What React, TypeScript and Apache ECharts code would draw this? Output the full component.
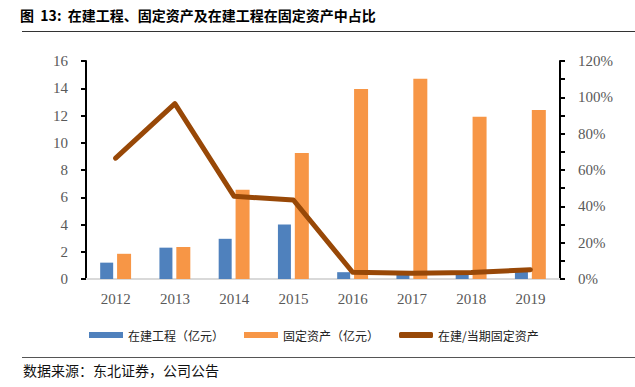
import React, { useEffect, useRef } from "react";
import * as echarts from "echarts";

const years = ["2012", "2013", "2014", "2015", "2016", "2017", "2018", "2019"];
const cip = [1.2, 2.3, 2.95, 4.0, 0.5, 0.45, 0.45, 0.65];
const fixedAssets = [1.85, 2.35, 6.55, 9.25, 13.95, 14.7, 11.9, 12.4];
const ratio = [66.5, 96.5, 45.5, 43.5, 3.7, 3.1, 3.6, 5.1];

const titleText = "图  13:  在建工程、固定资产及在建工程在固定资产中占比";
const sourceText = "数据来源：东北证券，公司公告";
const seriesNames = ["在建工程（亿元）", "固定资产（亿元）", "在建/当期固定资产"];

const serif = "'Liberation Serif', 'DejaVu Serif', serif";
const cjk = "'Noto Sans CJK SC', sans-serif";

export default function App() {
  const ref = useRef<HTMLDivElement>(null);
  useEffect(() => {
    if (!ref.current) return;
    const chart = echarts.init(ref.current, null, { renderer: "svg" });
    chart.setOption({
      animation: false,
      backgroundColor: "#ffffff",
      grid: { left: 86, right: 75, top: 61, bottom: 108 },
      graphic: [
        {
          type: "text",
          left: 20,
          top: 8,
          style: { text: titleText, font: `bold 14px ${cjk}`, fill: "#000" },
        },
        {
          type: "line",
          shape: { x1: 22, y1: 31.5, x2: 635, y2: 31.5 },
          style: { stroke: "#333", lineWidth: 1 },
        },
        {
          type: "line",
          shape: { x1: 22, y1: 357.5, x2: 635, y2: 357.5 },
          style: { stroke: "#555", lineWidth: 1 },
        },
        {
          type: "text",
          left: 23,
          top: 363,
          style: { text: sourceText, font: `14px ${cjk}`, fill: "#111" },
        },
      ],
      legend: {
        left: 84,
        top: 324,
        itemWidth: 34,
        itemHeight: 6,
        itemGap: 20,
        textStyle: { fontFamily: cjk, fontSize: 12, color: "#222" },
        data: [
          { name: seriesNames[0], icon: "rect" },
          { name: seriesNames[1], icon: "rect" },
          { name: seriesNames[2], icon: "roundRect" },
        ],
      },
      xAxis: {
        type: "category",
        data: years,
        axisLine: { lineStyle: { color: "#d9d9d9", width: 2 } },
        axisTick: { show: false },
        axisLabel: { fontFamily: serif, fontSize: 15, color: "#595959", margin: 12 },
      },
      yAxis: [
        {
          type: "value",
          min: 0,
          max: 16,
          interval: 2,
          axisLine: { show: true, lineStyle: { color: "#000", width: 2 } },
          axisTick: { show: true, length: 5, lineStyle: { color: "#000", width: 2 } },
          splitLine: { show: false },
          axisLabel: { fontFamily: serif, fontSize: 15, color: "#595959", margin: 18 },
        },
        {
          type: "value",
          min: 0,
          max: 120,
          interval: 20,
          position: "right",
          axisLine: { show: true, lineStyle: { color: "#000", width: 2 } },
          axisTick: { show: true, length: 5, lineStyle: { color: "#000", width: 2 } },
          minorTick: { show: true, splitNumber: 2, length: 5, lineStyle: { color: "#000", width: 2 } },
          splitLine: { show: false },
          axisLabel: {
            fontFamily: serif,
            fontSize: 15,
            color: "#595959",
            margin: 18,
            formatter: "{value}%",
          },
        },
      ],
      series: [
        {
          name: seriesNames[0],
          type: "bar",
          data: cip,
          barWidth: 13,
          barGap: "30%",
          itemStyle: { color: "#4F81BD" },
        },
        {
          name: seriesNames[1],
          type: "bar",
          data: fixedAssets,
          barWidth: 14,
          barGap: "30%",
          itemStyle: { color: "#F79646" },
        },
        {
          name: seriesNames[2],
          type: "line",
          yAxisIndex: 1,
          data: ratio,
          symbol: "none",
          lineStyle: { color: "#984807", width: 5, cap: "round", join: "round" },
          itemStyle: { color: "#984807" },
        },
      ],
    });
    return () => chart.dispose();
  }, []);
  return <div ref={ref} style={{ width: 635, height: 387, position: "absolute", left: 0, top: 0 }} />;
}
